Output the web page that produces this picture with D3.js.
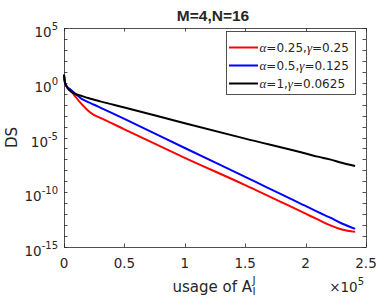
<!DOCTYPE html>
<html lang="en">
<head>
    <meta charset="UTF-8">
    <style>
        body { margin: 0; background: #fff; }
        .chart-svg { width: 381px; height: 306px; display: block; }
        text { fill: #262626; }
    </style>
    <script src="https://d3js.org/d3.v7.min.js"></script>
</head>
<body>

    <svg class="chart-svg" xmlns="http://www.w3.org/2000/svg"></svg>

    <script>
        // usage of A (in units of 1e5)
        const usage = [0, 0.008, 0.02, 0.05, 0.1, 0.15, 0.2, 0.25, 0.3, 0.5, 1.0, 1.5, 2.0, 2.1, 2.2, 2.3, 2.41];

        // DS values (log axis)
        const dsRed = [5.4, 1.0, 0.5, 0.25, 0.045, 0.01, 2.8e-3, 1.1e-3, 6.3e-4, 5.6e-5, 1.4e-7, 4.5e-10, 1.1e-12, 3.3e-13, 1e-13, 4e-14, 2.4e-14];
        const dsBlue = [5.4, 1.0, 0.5, 0.25, 0.09, 0.032, 0.017, 9.8e-3, 5.4e-3, 5e-4, 1.1e-6, 2.5e-9, 5.6e-12, 1.6e-12, 5e-13, 1.4e-13, 4.5e-14];
        const dsBlack = [5.4, 1.1, 0.5, 0.18, 0.089, 0.06, 0.04, 0.028, 0.02, 5.6e-3, 2e-4, 7.9e-6, 3.5e-7, 1.8e-7, 1e-7, 5e-8, 2.5e-8];

        const seriesNames = ["α=0.25,γ=0.25", "α=0.5,γ=0.125", "α=1,γ=0.0625"];
        const seriesColors = ["#ff0000", "#0000ff", "#000000"];

        const xTicks = [0, 0.5, 1, 1.5, 2, 2.5];
        const yMajor = [-15, -10, -5, 0, 5];   // exponents with labels

        const svg = d3.select(".chart-svg");

        const plotL = 64, plotR = 366, plotT = 28, plotB = 247;

        const x = d3.scaleLinear().domain([0, 2.5]).range([plotL, plotR]);
        const y = d3.scaleLog().domain([1e-15, 1e5]).range([plotB, plotT]);

        // ticks (inward, both sides)
        const tickLen = 3.5;
        const decades = d3.range(-15, 6);
        const ax = svg.append("g").attr("stroke", "#262626").attr("stroke-width", 0.8);

        decades.forEach(e => {
            const py = Math.round(y(Math.pow(10, e))) + 0.5;
            ax.append("line").attr("x1", plotL).attr("x2", plotL + tickLen).attr("y1", py).attr("y2", py);
            ax.append("line").attr("x1", plotR).attr("x2", plotR - tickLen).attr("y1", py).attr("y2", py);
        });
        xTicks.forEach(t => {
            const px = Math.round(x(t)) + 0.5;
            ax.append("line").attr("x1", px).attr("x2", px).attr("y1", plotB).attr("y2", plotB - tickLen);
            ax.append("line").attr("x1", px).attr("x2", px).attr("y1", plotT).attr("y2", plotT + tickLen);
        });

        // box
        ax.append("rect")
            .attr("x", plotL + 0.5).attr("y", plotT + 0.5)
            .attr("width", plotR - plotL).attr("height", plotB - plotT)
            .attr("fill", "none");

        // series lines
        const line = d3.line()
            .x(d => x(d[0]))
            .y(d => y(d[1]))
            .curve(d3.curveMonotoneX);

        [dsRed, dsBlue, dsBlack].forEach((vals, i) => {
            svg.append("path")
                .datum(usage.map((u, k) => [u, vals[k]]))
                .attr("d", line)
                .attr("fill", "none")
                .attr("stroke", seriesColors[i])
                .attr("stroke-width", 2)
                .attr("stroke-linejoin", "round");
        });

        // x tick labels
        xTicks.forEach(t => {
            svg.append("text")
                .attr("x", x(t))
                .attr("y", 268)
                .attr("text-anchor", "middle")
                .attr("font-family", "DejaVu Sans")
                .attr("font-size", "13.5px")
                .text(t);
        });

        // y tick labels 10^e
        yMajor.forEach(e => {
            const t = svg.append("text")
                .attr("x", 58)
                .attr("y", y(Math.pow(10, e)) + 9)
                .attr("text-anchor", "end")
                .attr("font-family", "DejaVu Sans")
                .attr("font-size", "13.5px");
            t.append("tspan").text("10");
            t.append("tspan").attr("dy", -7).attr("font-size", "10px").text(e);
        });

        // x10^5 multiplier
        const mult = svg.append("text")
            .attr("x", 364)
            .attr("y", 291.5)
            .attr("text-anchor", "end")
            .attr("font-family", "DejaVu Sans")
            .attr("font-size", "13.5px");
        mult.append("tspan").text("×10");
        mult.append("tspan").attr("dy", -7).attr("font-size", "10px").text("5");

        // x label: usage of A_I^J
        const xl = svg.append("text")
            .attr("x", 172.5)
            .attr("y", 291.5)
            .attr("font-family", "DejaVu Sans")
            .attr("font-size", "15px")
            .text("usage of A");
        const xlEnd = 172.5 + xl.node().getComputedTextLength();
        svg.append("text")
            .attr("x", xlEnd + 0.5).attr("y", 284)
            .attr("font-family", "DejaVu Sans").attr("font-size", "10.5px")
            .text("J");
        svg.append("text")
            .attr("x", xlEnd + 0.5).attr("y", 295)
            .attr("font-family", "DejaVu Sans").attr("font-size", "10.5px")
            .text("I");

        // y label
        svg.append("text")
            .attr("transform", "translate(16.5,137.5) rotate(-90)")
            .attr("text-anchor", "middle")
            .attr("font-family", "DejaVu Sans")
            .attr("font-size", "15px")
            .text("DS");

        // title
        svg.append("text")
            .attr("x", 213)
            .attr("y", 21)
            .attr("text-anchor", "middle")
            .attr("font-family", "Liberation Sans, Arial, sans-serif")
            .attr("font-weight", "bold")
            .attr("font-size", "15.5px")
            .attr("fill", "#000")
            .text("M=4,N=16");

        // legend
        const lg = svg.append("g");
        lg.append("rect")
            .attr("x", 226.5).attr("y", 31.5)
            .attr("width", 129).attr("height", 63)
            .attr("fill", "#fff")
            .attr("stroke", "#262626")
            .attr("stroke-width", 0.8);

        const legendY = [47.5, 65.5, 83.5];
        seriesNames.forEach((name, i) => {
            lg.append("line")
                .attr("x1", 229).attr("x2", 258)
                .attr("y1", legendY[i]).attr("y2", legendY[i])
                .attr("stroke", seriesColors[i])
                .attr("stroke-width", 2);
            const t = lg.append("text")
                .attr("x", 259.5)
                .attr("y", legendY[i] + 4.5)
                .attr("font-family", "DejaVu Sans")
                .attr("font-size", "12px");
            // greek letters in serif italic, rest plain
            name.split(/([αγ])/).filter(s => s.length).forEach(part => {
                const sp = t.append("tspan").text(part);
                if (part === "α" || part === "γ") {
                    sp.attr("font-family", "Liberation Serif")
                      .attr("font-style", "italic")
                      .attr("font-size", "13px");
                }
            });
        });
    </script>

</body>
</html>
